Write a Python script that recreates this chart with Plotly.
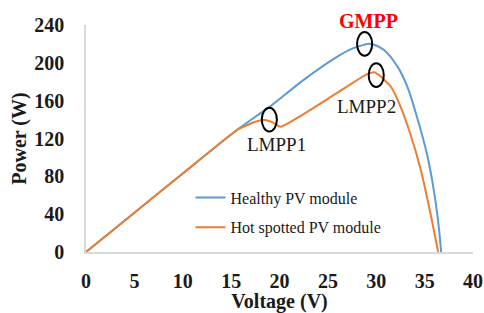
import plotly.graph_objects as go

# Data
healthy_v = [0, 5, 10, 15.6, 17.5, 19.05, 22.5, 25.9, 27.5, 28.7, 29.4, 30.8, 32.2, 33.2, 34.2, 35.3, 36.0, 36.5, 36.7]
healthy_p = [0, 41.5, 83, 129, 143, 154, 182, 206, 215, 219, 220, 213.6, 196, 175, 143, 101, 62, 23, 0]
hot_v = [0, 5, 10, 15.6, 16.6, 17.6, 18.5, 19.3, 20.1, 25, 29.05, 29.8, 30.4, 31.5, 32.5, 33.5, 34.6, 35.6, 36.4]
hot_p = [0, 41.5, 83, 129, 134, 138, 139.5, 137, 132.5, 162, 188, 190, 186, 175, 154, 125.5, 87, 41, 0]

mpp_names = ["LMPP1", "GMPP", "LMPP2"]
mpp_v = [18.95, 28.8, 30.0]
mpp_p = [140, 220, 187]
label_v = [19.7, 29.2, 29.0]
label_p = [114, 243.7, 154]

x_ticks = [0, 5, 10, 15, 20, 25, 30, 35, 40]
y_ticks = [0, 40, 80, 120, 160, 200, 240]

FONT = "Liberation Serif, Times New Roman, serif"
TXT = "#1a1a1a"

fig = go.Figure()
fig.add_trace(go.Scatter(x=healthy_v, y=healthy_p, mode="lines", name="Healthy PV module",
                         legendgroup="a",
                         line=dict(color="#5b9bd5", width=2, shape="spline", smoothing=0.9)))
fig.add_trace(go.Scatter(x=hot_v, y=hot_p, mode="lines", name="Hot spotted PV module",
                         legendgroup="b",
                         line=dict(color="#ed7d31", width=2, shape="spline", smoothing=0.5)))

for v, p in zip(mpp_v, mpp_p):
    fig.add_shape(type="circle", xref="x", yref="y", x0=v - 0.78, x1=v + 0.78,
                  y0=p - 12.5, y1=p + 12.5, line=dict(color="black", width=2))

for name, v, p in zip(mpp_names, label_v, label_p):
    is_g = name == "GMPP"
    fig.add_annotation(x=v, y=(p if not is_g else 240), yshift=(0 if not is_g else (p - 240) * 0.946),
                       text=f"<b>{name}</b>" if is_g else name, showarrow=False,
                       font=dict(family=FONT, size=20 if is_g else 19,
                                 color="#ff0000" if is_g else TXT))

fig.update_layout(
    width=484, height=313,
    margin=dict(l=86, r=11, t=25, b=61),
    paper_bgcolor="white", plot_bgcolor="white",
    font=dict(family=FONT, color=TXT),
    showlegend=True,
    legend=dict(x=0.27, y=0.315, xanchor="left", yanchor="top",
                bgcolor="rgba(0,0,0,0)", font=dict(family=FONT, size=16, color=TXT),
                traceorder="grouped", tracegroupgap=6),
)
fig.update_xaxes(range=[0, 40], tickvals=x_ticks, showgrid=False, zeroline=False,
                 showline=True, linecolor="#d9d9d9", linewidth=1.5, automargin=False,
                 tickfont=dict(family=FONT, size=20, color=TXT, weight="bold"),
                 ticklabelstandoff=10,
                 title=dict(text="<b>Voltage (V)</b>", font=dict(family=FONT, size=20, color=TXT),
                            standoff=5))
fig.update_yaxes(range=[0, 240], tickvals=y_ticks, showgrid=False, zeroline=False,
                 showline=True, linecolor="#d9d9d9", linewidth=1.5, automargin=False,
                 tickfont=dict(family=FONT, size=20, color=TXT, weight="bold"),
                 ticklabelstandoff=16,
                 title=dict(text="<b>Power (W)</b>", font=dict(family=FONT, size=20, color=TXT),
                            standoff=2))

fig.write_html("out.html", config={"displayModeBar": False},
               post_script="document.body.style.margin='0';document.body.style.overflow='hidden';")
